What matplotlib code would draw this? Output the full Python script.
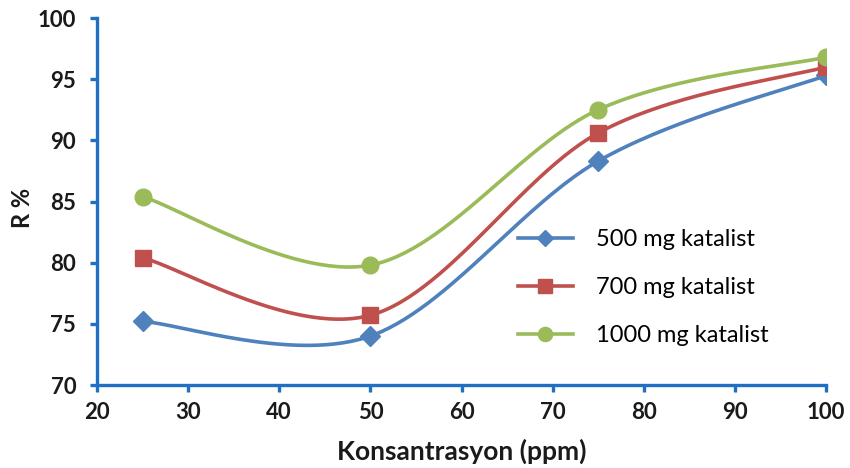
import numpy as np
import matplotlib
matplotlib.use("Agg")
import matplotlib.pyplot as plt

conc = [25, 50, 75, 100]
r_500 = [75.2, 74.0, 88.3, 95.3]
r_700 = [80.4, 75.7, 90.6, 96.0]
r_1000 = [85.4, 79.8, 92.5, 96.8]
series_labels = ["500 mg katalist", "700 mg katalist", "1000 mg katalist"]
x_ticks = [20, 30, 40, 50, 60, 70, 80, 90, 100]
y_ticks = [70, 75, 80, 85, 90, 95, 100]


def smooth(xs, ys, n=60):
    xs = np.asarray(xs, float)
    ys = np.asarray(ys, float)
    P = np.column_stack([xs, ys])
    pts = []
    for i in range(len(P) - 1):
        p0 = P[i - 1] if i > 0 else P[i]
        p1 = P[i]
        p2 = P[i + 1]
        p3 = P[i + 2] if i + 2 < len(P) else P[i + 1]
        c1 = p1 + (p2 - p0) / 6.0
        c2 = p2 - (p3 - p1) / 6.0
        t = np.linspace(0, 1, n)[:, None]
        b = ((1 - t) ** 3) * p1 + 3 * ((1 - t) ** 2) * t * c1 + 3 * (1 - t) * t ** 2 * c2 + t ** 3 * p2
        pts.append(b if i == 0 else b[1:])
    arr = np.vstack(pts)
    return arr[:, 0], arr[:, 1]


fig = plt.figure(figsize=(8.5, 4.68), dpi=100)
ax = fig.add_axes([97 / 850, 1 - 385 / 468, (826 - 97) / 850, (385 - 18) / 468])

styles = [
    ("#4F81BD", "D", 10),
    ("#C0504D", "s", 11.5),
    ("#9BBB59", "o", 12),
]
for ys, lab, (col, mk, ms) in zip([r_500, r_700, r_1000], series_labels, styles):
    sx, sy = smooth(conc, ys)
    ax.plot(sx, sy, color=col, lw=2.6, solid_capstyle="round", zorder=2)
    ax.plot(conc, ys, linestyle="none", marker=mk, ms=ms, color=col, zorder=3)
    ax.plot([], [], color=col, lw=2.6, marker=mk, ms=ms * 0.85, label=lab)

ax.set_xlim(20, 100)
ax.set_ylim(70, 100)
ax.set_xticks(x_ticks)
ax.set_yticks(y_ticks)

axis_col = "#1F6FC5"
for s in ["top", "right"]:
    ax.spines[s].set_visible(False)
for s in ["left", "bottom"]:
    ax.spines[s].set_color(axis_col)
    ax.spines[s].set_linewidth(2.4)
ax.tick_params(axis="both", colors=axis_col, width=2.4, length=5, direction="out",
               labelcolor="#1a1a1a", labelsize=16)
ax.tick_params(axis="x", pad=7)
ax.tick_params(axis="y", pad=10)
for lbl in ax.get_xticklabels() + ax.get_yticklabels():
    lbl.set_fontfamily("Lato")
    lbl.set_fontweight("bold")

ax.set_xlabel("Konsantrasyon (ppm)", fontsize=19, fontweight="bold", family="Lato",
              color="#1a1a1a")
ax.xaxis.set_label_coords((462 - 97) / 729, (385 - 439) / 367)
ax.set_ylabel("R %", fontsize=17, fontweight="bold", family="Lato",
              color="#1a1a1a")
ax.yaxis.set_label_coords((34 - 97) / 729, (385 - 208) / 367)

leg = ax.legend(loc="center left", bbox_to_anchor=(0.565, 0.265), frameon=False,
                prop={"family": "Lato", "size": 17}, handlelength=2.3,
                handletextpad=1.0, labelspacing=1.15, borderaxespad=0)

fig.savefig("out.png", dpi=100)
